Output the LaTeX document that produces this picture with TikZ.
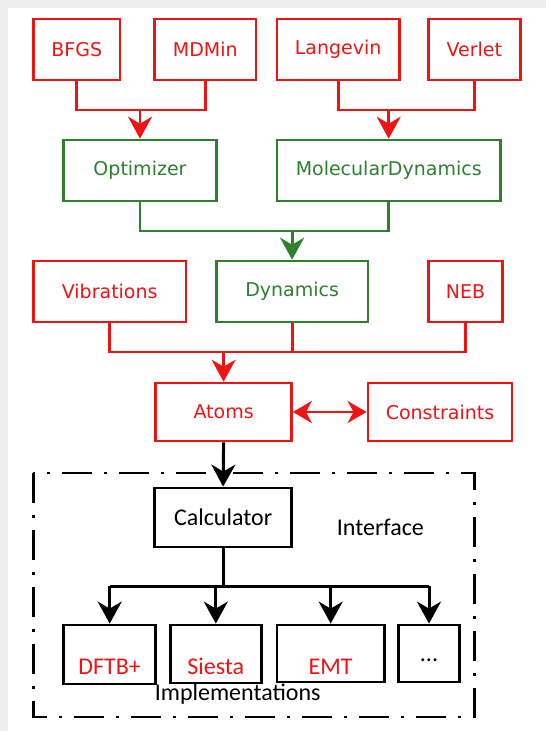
\documentclass[tikz,border=0pt]{standalone}
\usepackage{fontspec}
\setmainfont{DejaVu Sans}
\newfontfamily\calcfont{Carlito}
\usetikzlibrary{arrows.meta}
\definecolor{aseRed}{RGB}{238,20,20}
\definecolor{aseGreen}{RGB}{46,128,46}

\tikzset{
  box/.style={draw, line width=2.6pt, inner sep=0pt, font=\fontsize{19}{22}\selectfont},
  redbox/.style={box, draw=aseRed, text=aseRed},
  greenbox/.style={box, draw=aseGreen, text=aseGreen},
  calcbox/.style={box, draw=black, line width=2.8pt, font=\calcfont\fontsize{24}{28}\selectfont},
  implabel/.style={anchor=base, font=\calcfont\fontsize{24}{28}\selectfont},
  tip/.style={-{Stealth[length=22pt,width=24pt,inset=7pt]}},
  redline/.style={draw=aseRed, line width=2.8pt},
  greenline/.style={draw=aseGreen, line width=2.8pt},
  blackline/.style={draw=black, line width=3pt}
}

\begin{document}
\begin{tikzpicture}[x=1pt,y=-1pt]
        \useasboundingbox (0,0) rectangle (546,731);
        \fill[white] (0,0) rectangle (546,731);
        \fill[black!7] (0,0) rectangle (546,8);
        \fill[black!7] (0,0) rectangle (8,731);

        % Top row
        \node[redbox, minimum width=86.7pt, minimum height=61pt] (bfgs) at (76.8,49.5) {BFGS};
        \node[redbox, minimum width=101.4pt, minimum height=61pt] (mdmin) at (205.3,49.5) {MDMin};
        \node[redbox, minimum width=122.3pt, minimum height=61pt] (langevin) at (338.1,49.5) {Langevin};
        \node[redbox, minimum width=92pt, minimum height=61pt] (verlet) at (474.4,49.5) {Verlet};

        % Optimizer and MolecularDynamics
        \node[greenbox, minimum width=152.6pt, minimum height=61pt] (optimizer) at (140,170.5) {Optimizer};
        \node[greenbox, minimum width=223.6pt, minimum height=61pt] (moldyn) at (388.7,170.5) {MolecularDynamics};

        % Third row
        \node[redbox, minimum width=152.6pt, minimum height=61pt] (vibrations) at (109.7,291.5) {Vibrations};
        \node[greenbox, minimum width=151.5pt, minimum height=61pt] (dynamics) at (292.1,291.5) {Dynamics};
        \node[redbox, minimum width=74.2pt, minimum height=61pt] (neb) at (465.5,291.5) {NEB};

        % Atoms and Constraints
        \node[redbox, minimum width=135.9pt, minimum height=58pt] (atoms) at (223.6,412) {Atoms};
        \node[redbox, minimum width=144.2pt, minimum height=58pt] (constraints) at (440,412) {Constraints};

        % Calculator frame
        \draw[line width=2.8pt, dash pattern=on 30pt off 12pt on 3pt off 12pt] (33.4,473) rectangle (474.4,717);
        \node[calcbox, minimum width=136.9pt, minimum height=59pt] (calculator) at (223.1,517.5) {Calculator};
        \node[implabel, anchor=center] (interface) at (380.4,527.5) {Interface};

        \node[calcbox, minimum width=92pt, minimum height=59pt,
              label={[implabel, text=aseRed, yshift=11pt]south:DFTB+}] (dftb) at (109.7,654.5) {};
        \node[calcbox, minimum width=90.9pt, minimum height=58pt,
              label={[implabel, text=aseRed, yshift=10pt]south:Siesta}] (siesta) at (215.8,654) {};
        \node[calcbox, minimum width=107.6pt, minimum height=57pt,
              label={[implabel, text=aseRed, yshift=9pt]south:EMT}] (emt) at (330.7,653.5) {};
        \node[calcbox, minimum width=61.7pt, minimum height=57pt,
              label={[implabel, yshift=22pt]south:...}] (more) at (429,653.5) {};
        \node[implabel, anchor=center] (implementations) at (237.7,694) {Implementations};

        % Joints
        \coordinate (j1) at (140,110);
        \coordinate (j2) at (388.7,110);
        \coordinate (j3) at (292.1,231);
        \coordinate (j4) at (223.6,352);
        \coordinate (j5) at (223.1,586);

        % Red connectors
        \draw[redline] (bfgs.south) |- (j1) -| (mdmin.south);
        \draw[redline, tip] (j1) -- (optimizer.north);
        \draw[redline] (langevin.south) |- (j2) -| (verlet.south);
        \draw[redline, tip] (j2) -- (moldyn.north);

        % Green connectors
        \draw[greenline] (optimizer.south) |- (j3) -| (moldyn.south);
        \draw[greenline, tip] (j3) -- (dynamics.north);

        \draw[redline] (vibrations.south) |- (j4) -| (neb.south);
        \draw[redline] (dynamics.south) -- (dynamics.south |- j4);
        \draw[redline, tip] (j4) -- (atoms.north);
        \draw[redline, {Stealth[length=19pt,width=22pt,inset=6pt]}-{Stealth[length=19pt,width=22pt,inset=6pt]}]
            (atoms.east) -- (constraints.west);

        % Black connectors
        \draw[blackline, tip] (atoms.south) -- (calculator.north);
        \draw[blackline] (calculator.south) -- (j5);
        \draw[blackline] (j5 -| dftb.north) -- (j5 -| more.north);
        \foreach \impl in {dftb,siesta,emt,more}
            \draw[blackline, tip] (j5 -| \impl.north) -- (\impl.north);

    \end{tikzpicture}
\end{document}
